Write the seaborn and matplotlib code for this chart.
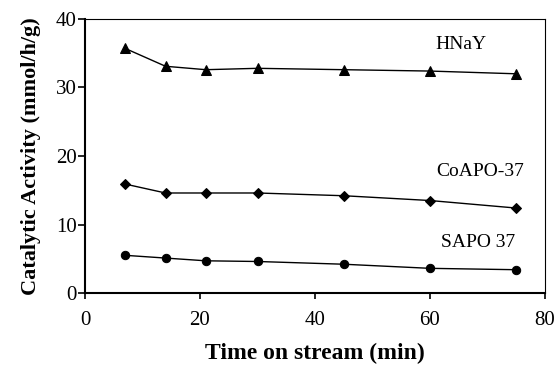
import matplotlib
matplotlib.use("Agg")
import matplotlib.pyplot as plt
import seaborn as sns
import pandas as pd

time_min = [7, 14, 21, 30, 45, 60, 75]
hnay = [35.7, 33.1, 32.6, 32.8, 32.6, 32.4, 32.0]
coapo37 = [15.9, 14.6, 14.6, 14.6, 14.2, 13.5, 12.4]
sapo37 = [5.5, 5.1, 4.7, 4.6, 4.2, 3.6, 3.4]
series_names = ["HNaY", "CoAPO-37", "SAPO 37"]
series_values = [hnay, coapo37, sapo37]
markers = ["^", "D", "o"]
marker_sizes = [7, 5, 6]
label_pos = [(65.3, 36.3), (68.7, 17.8), (68.3, 7.4)]

sns.set_theme(style="ticks")
plt.rcParams["font.family"] = ["Liberation Serif", "DejaVu Serif"]

fig = plt.figure(figsize=(5.6, 3.68), dpi=100)
ax = fig.add_axes([85/560, 1 - 293/368, 460/560, 274/368])

for name, vals, m, ms in zip(series_names, series_values, markers, marker_sizes):
    df = pd.DataFrame({"t": time_min, "v": vals})
    sns.lineplot(data=df, x="t", y="v", ax=ax, color="black", marker=m,
                 markersize=ms, markeredgecolor="black", linewidth=1.0)

for name, (lx, ly) in zip(series_names, label_pos):
    ax.text(lx, ly, name, ha="center", va="center", fontsize=14, color="black")

ax.set_xlim(0, 80)
ax.set_ylim(0, 40)
ax.set_xticks([0, 20, 40, 60, 80])
ax.set_yticks([0, 10, 20, 30, 40])
ax.tick_params(axis="x", direction="out", length=4, width=1.2, labelsize=15,
               colors="black", pad=9)
ax.tick_params(axis="y", direction="out", length=5, width=1.2, labelsize=15,
               colors="black", pad=1)
ax.set_xlabel("Time on stream (min)", fontsize=17, fontweight="bold",
              color="black", labelpad=9)
ax.set_ylabel("Catalytic Activity (mmol/h/g)", fontsize=16, fontweight="bold",
              color="black", labelpad=11)
for s in ["left", "bottom"]:
    ax.spines[s].set_linewidth(1.5)
    ax.spines[s].set_color("black")
for s in ["top", "right"]:
    ax.spines[s].set_linewidth(0.8)
    ax.spines[s].set_color("black")

fig.savefig("out.png", dpi=100)
